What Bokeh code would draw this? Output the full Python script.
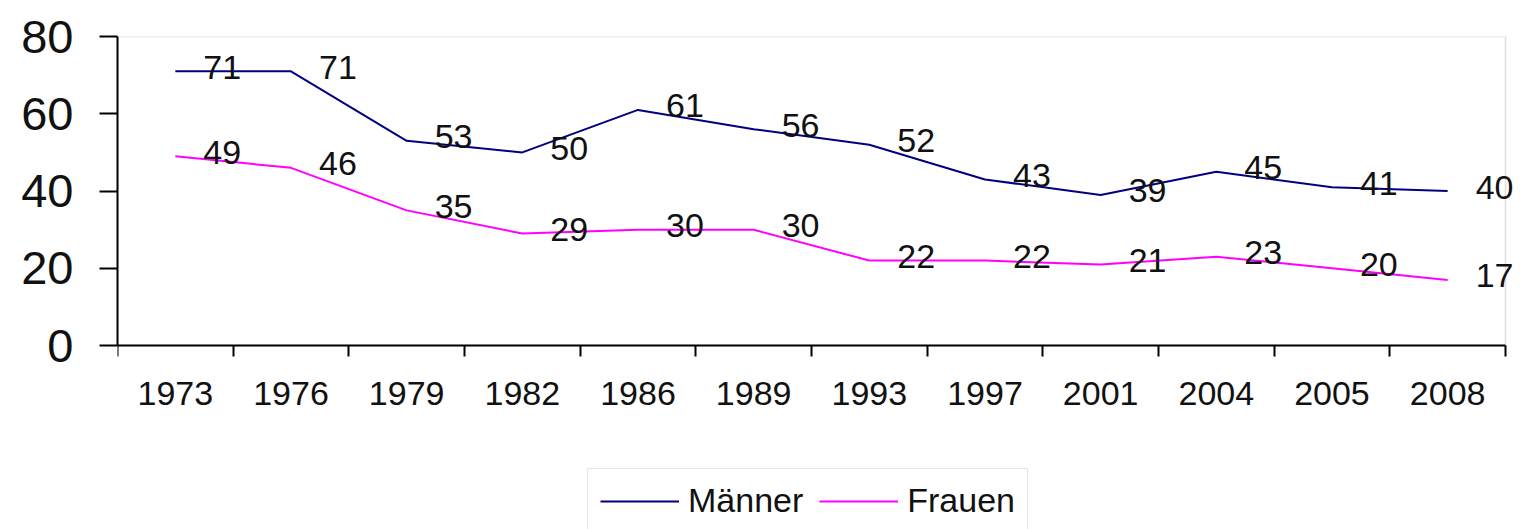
from bokeh.plotting import figure
from bokeh.models import (ColumnDataSource, FixedTicker, Range1d, Legend, LegendItem, LabelSet,
                          BoxAnnotation)
from bokeh.core.properties import value
from bokeh.embed import file_html
from bokeh.resources import INLINE

years = ["1973", "1976", "1979", "1982", "1986", "1989", "1993", "1997", "2001", "2004", "2005", "2008"]
maenner = [71, 71, 53, 50, 61, 56, 52, 43, 39, 45, 41, 40]
frauen = [49, 46, 35, 29, 30, 30, 22, 22, 21, 23, 20, 17]
y_ticks = [0, 20, 40, 60, 80]

FONT = "Liberation Sans"
idx = list(range(len(years)))
x_lo, x_hi = -0.5, len(years) - 0.5
y_lo, y_hi = 0, 80
# extra room (data units) beyond the plot area so that labels / legend can be drawn there
x_room = x_hi + 0.13
y_room = -47.6

p = figure(width=1520, height=529, output_backend="svg", toolbar_location=None,
           x_range=Range1d(x_lo, x_room), y_range=Range1d(y_room, y_hi),
           min_border_left=117, min_border_right=0, min_border_top=36, min_border_bottom=0)
p.background_fill_color = "white"
p.border_fill_color = "white"
p.outline_line_color = None
p.xgrid.visible = False
p.ygrid.visible = False

# plot-area frame (grey top / right border)
frame = BoxAnnotation(left=x_lo, right=x_hi, bottom=y_lo, top=y_hi, fill_alpha=0,
                      line_color="#999999", line_width=1.5, level="underlay")
p.add_layout(frame)

src_m = ColumnDataSource(dict(x=idx, y=maenner, t=[str(v) for v in maenner]))
src_f = ColumnDataSource(dict(x=idx, y=frauen, t=[str(v) for v in frauen]))

rm = p.line("x", "y", source=src_m, line_color="#000080", line_width=2)
rf = p.line("x", "y", source=src_f, line_color="#FF00FF", line_width=2)

for src in (src_m, src_f):
    lab = LabelSet(x="x", y="y", text="t", source=src, x_offset=28, y_offset=4,
                   text_align="left", text_baseline="middle",
                   text_font=value(FONT), text_font_size=value("34px"), text_color="#111111")
    p.add_layout(lab)

# x axis
xa = p.xaxis[0]
xa.fixed_location = 0
xa.bounds = (x_lo, x_hi)
xa.ticker = FixedTicker(ticks=idx, minor_ticks=[i - 0.5 for i in range(len(years) + 1)])
xa.major_label_overrides = {i: y for i, y in enumerate(years)}
xa.major_tick_out = 0
xa.major_tick_in = 0
xa.minor_tick_out = 11
xa.minor_tick_in = 0
xa.minor_tick_line_color = "black"
xa.minor_tick_line_width = 2
xa.axis_line_color = "black"
xa.axis_line_width = 2
xa.major_label_text_font = FONT
xa.major_label_text_font_size = "34px"
xa.major_label_text_color = "#111111"
xa.major_label_standoff = 25

# y axis
ya = p.yaxis[0]
ya.bounds = (y_lo, y_hi)
ya.ticker = FixedTicker(ticks=y_ticks, minor_ticks=[])
ya.major_tick_out = 18
ya.major_tick_in = 0
ya.major_tick_line_color = "black"
ya.major_tick_line_width = 2
ya.axis_line_color = "black"
ya.axis_line_width = 2
ya.major_label_text_font = FONT
ya.major_label_text_font_size = "47px"
ya.major_label_text_color = "#111111"
ya.major_label_standoff = 26

legend = Legend(items=[LegendItem(label="Männer", renderers=[rm]),
                       LegendItem(label="Frauen", renderers=[rf])],
                orientation="horizontal", location=(470, -4),
                label_text_font=FONT, label_text_font_size="34px", label_text_color="#111111",
                glyph_width=79, label_standoff=9, spacing=16, padding=12, margin=0,
                border_line_color="#cccccc", border_line_width=1.5,
                background_fill_alpha=1.0)
p.add_layout(legend, "center")

open("out.html", "w").write(file_html(p, INLINE))
